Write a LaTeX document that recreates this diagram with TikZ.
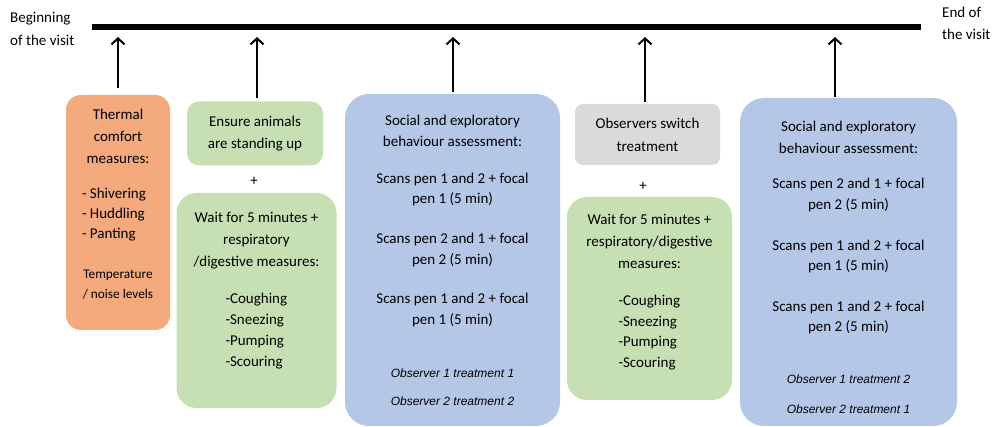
\documentclass[tikz,border=0pt]{standalone}
\usepackage{fontspec}
\setmainfont{Carlito}
\newfontfamily\obsfont{Liberation Sans}
\usepackage{tikz}
\usetikzlibrary{arrows.meta}
\definecolor{thermorange}{HTML}{F5AA7D}
\definecolor{measgreen}{HTML}{C6E0B4}
\definecolor{behavblue}{HTML}{B4C7E7}
\definecolor{switchgray}{HTML}{DADADA}
\newcommand\lowpad[1]{\rule[-#1]{0pt}{#1}}
\newcommand\listline[2]{\makebox[#1][l]{#2}}
\newcommand\observer[1]{{\obsfont\itshape\fontsize{12}{14}\selectfont #1}}
\newcommand\smalltext[1]{{\fontsize{13.3}{20}\selectfont #1}}
\tikzset{% 
  box/.style = {shape=rectangle, align=center, inner sep=0pt},
  thermbox/.style = {box, fill=thermorange, rounded corners=15pt},
  measbox/.style = {box, fill=measgreen, rounded corners=#1},
  behavbox/.style = {box, fill=behavblue, rounded corners=24pt},
  switchbox/.style = {box, fill=switchgray, rounded corners=8pt},
  timeline/.style = {draw, line width=6.5pt},
  uparrow/.style = {draw, line width=2pt, -{Straight Barb[length=6pt,width=13pt]}}
}

\begin{document}
\begin{tikzpicture}[x=1pt,y=-1pt,font=\fontsize{15}{21}\selectfont]
  \useasboundingbox (0,0) rectangle (994,427);
  \coordinate (barL) at (92,27);
  \coordinate (barR) at (921,27);
  \coordinate (tips) at (0,37);
  \draw[timeline] (barL) -- (barR);
  \node[anchor=west, align=left, inner sep=0pt] (visitstart) at (10,28.5)
    {Beginning\\[2pt]of the visit};
  \node[anchor=west, align=left, inner sep=0pt] (visitend) at (942,23)
    {End of\\[1pt]the visit};

  \node[thermbox, minimum width=104pt, minimum height=235pt] (thermal) at (118,212.5)
    {Thermal\\[1pt]comfort\\[1pt]measures:\\[14pt]
     \listline{72pt}{- Shivering}\\[-1pt]\listline{72pt}{- Huddling}\\[-1pt]\listline{72pt}{- Panting}\\[19pt]
     \smalltext{Temperature}\\[-1pt]\smalltext{/ noise levels}\lowpad{18pt}};

  \node[measbox=12pt, minimum width=136pt, minimum height=64pt] (ensure) at (255,133.5)
    {Ensure animals\\[1pt]are standing up};
  \node (plusA) at (254,181) {+};
  \node[measbox=20pt, minimum width=160pt, minimum height=215pt] (wait1) at (256.5,300.5)
    {Wait for 5 minutes +\\[1pt]respiratory\\[1pt]/digestive measures:\\[16pt]
     \listline{62pt}{-Coughing}\\\listline{62pt}{-Sneezing}\\\listline{62pt}{-Pumping}\\\listline{62pt}{-Scouring}\lowpad{22pt}};

  \node[behavbox, minimum width=215pt, minimum height=332pt] (social1) at (452.5,260)
    {Social and exploratory\\behaviour assessment:\\[16pt]
     Scans pen 1 and 2 + focal\\[-1pt]pen 1 (5 min)\\[19pt]
     Scans pen 2 and 1 + focal\\pen 2 (5 min)\\[18pt]
     Scans pen 1 and 2 + focal\\pen 1 (5 min)\\[32pt]
     \observer{Observer 1 treatment 1}\\[7pt]\observer{Observer 2 treatment 2}};

  \node[switchbox, minimum width=145pt, minimum height=61pt] (switch) at (647.5,134.5)
    {Observers switch\\[2pt]treatment};
  \node (plusB) at (643,186) {+};
  \node[measbox=20pt, minimum width=165pt, minimum height=203pt] (wait2) at (649.5,298.5)
    {Wait for 5 minutes +\\[1pt]respiratory/digestive\\[1pt]measures:\\[16pt]
     \listline{62pt}{-Coughing}\\[-0.5pt]\listline{62pt}{-Sneezing}\\[-0.5pt]\listline{62pt}{-Pumping}\\[-0.5pt]\listline{62pt}{-Scouring}\lowpad{15pt}};

  \node[behavbox, minimum width=217pt, minimum height=328pt] (social2) at (848.5,262)
    {\rule{0pt}{21pt}Social and exploratory\\[1pt]behaviour assessment:\\[14pt]
     Scans pen 2 and 1 + focal\\pen 2 (5 min)\\[20pt]
     Scans pen 1 and 2 + focal\\[-1pt]pen 1 (5 min)\\[20pt]
     Scans pen 1 and 2 + focal\\[-1pt]pen 2 (5 min)\\[31pt]
     \observer{Observer 1 treatment 2}\\[9pt]\observer{Observer 2 treatment 1}};

  \draw[uparrow] ([yshift=7pt]thermal.north) -- (thermal.north |- tips);
  \draw[uparrow] ([xshift=2pt,yshift=3pt]ensure.north) -- ([xshift=2pt]ensure.north |- tips);
  \draw[uparrow] ([xshift=0.5pt,yshift=2pt]social1.north) -- ([xshift=0.5pt]social1.north |- tips);
  \draw[uparrow] ([xshift=-2.5pt,yshift=2pt]switch.north) -- ([xshift=-2.5pt]switch.north |- tips);
  \draw[uparrow] ([xshift=-13.5pt,yshift=1pt]social2.north) -- ([xshift=-13.5pt]social2.north |- tips);
\end{tikzpicture}
\end{document}
